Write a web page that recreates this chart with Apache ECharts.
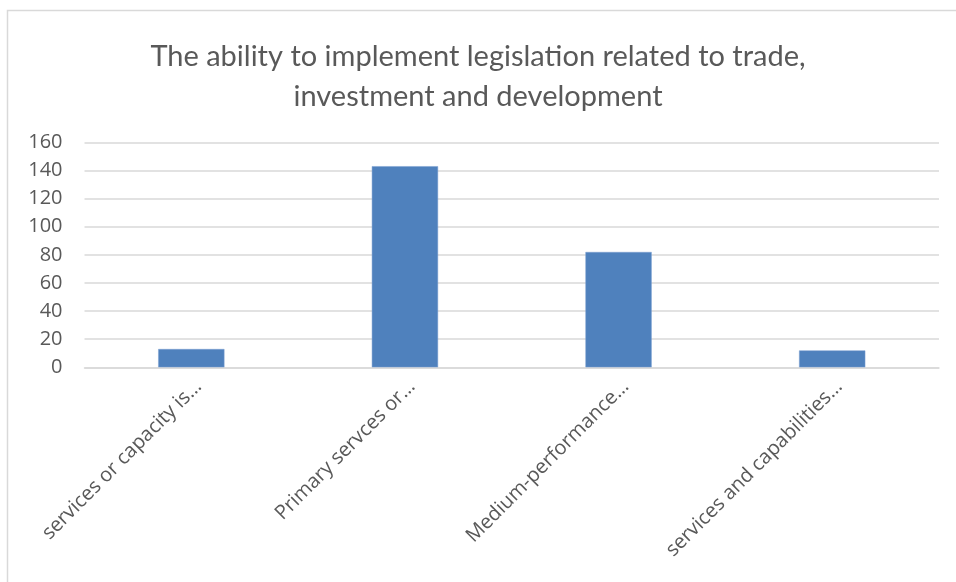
<!DOCTYPE html>
<html>
<head>
<meta charset="utf-8">
<script src="https://cdn.jsdelivr.net/npm/echarts@6/dist/echarts.min.js"></script>
<style>
  html, body { margin: 0; padding: 0; background: #fff; }
  #chart { width: 956px; height: 582px; }
</style>
</head>
<body>
<div id="chart"></div>
<script>
// Category labels (shown truncated on the axis)
const categories = [
  'services or capacity is…',
  'Primary servces or…',
  'Medium-performance…',
  'services and capabilities…'
];
// Counts per category
const counts = [13, 143, 82, 12];
// Value axis range
const yMin = 0;
const yMax = 160;
const yStep = 20;

const titleText = 'The ability to implement legislation related to trade,\ninvestment and development';

const chart = echarts.init(document.getElementById('chart'), null, { renderer: 'canvas' });

chart.setOption({
  backgroundColor: '#ffffff',
  animation: false,
  textStyle: { fontFamily: 'Open Sans' },
  graphic: [{
    type: 'rect',
    silent: true,
    shape: { x: 7.5, y: 10.5, width: 1000, height: 1000 },
    style: { fill: 'none', stroke: '#d9d9d9', lineWidth: 1.5 }
  }],
  title: {
    text: titleText,
    left: 'center',
    top: 32,
    textStyle: {
      fontFamily: 'Lato',
      fontSize: 29,
      fontWeight: 'normal',
      color: '#595959',
      lineHeight: 40
    }
  },
  grid: {
    left: 84.5,
    right: 17,
    top: 142.3,
    bottom: 214.7,
    containLabel: false
  },
  xAxis: {
    type: 'category',
    data: categories,
    axisLine: { show: true, lineStyle: { color: '#d9d9d9', width: 1.5 } },
    axisTick: { show: false },
    axisLabel: {
      rotate: 45,
      interval: 0,
      margin: 9,
      verticalAlign: 'top',
      fontFamily: 'Open Sans',
      fontSize: 20,
      color: '#595959'
    }
  },
  yAxis: {
    type: 'value',
    min: yMin,
    max: yMax,
    interval: yStep,
    axisLine: { show: false },
    axisTick: { show: false },
    splitLine: { lineStyle: { color: '#d9d9d9', width: 1.5 } },
    axisLabel: {
      margin: 22,
      fontFamily: 'Open Sans',
      fontSize: 20,
      color: '#595959'
    }
  },
  series: [{
    type: 'bar',
    data: counts,
    barWidth: '31%',
    itemStyle: {
      color: '#4f81bd',
      borderColor: '#7a9fd0',
      borderWidth: 0.5
    }
  }]
});
</script>
</body>
</html>
